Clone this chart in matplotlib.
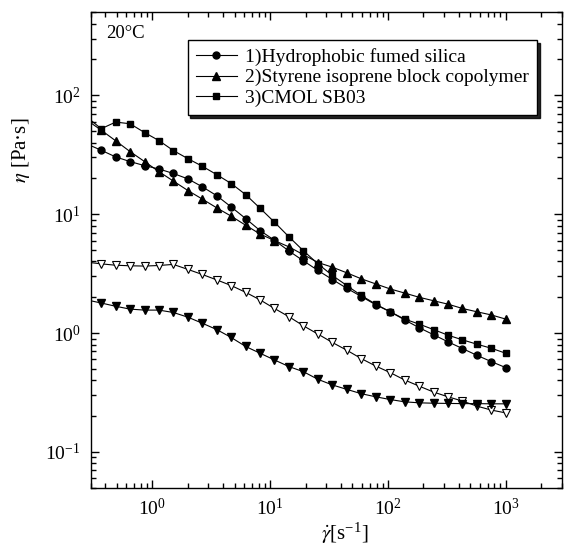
import matplotlib
matplotlib.use('Agg')
import matplotlib.pyplot as plt
from matplotlib.ticker import LogLocator, NullFormatter

# shear rate [1/s]
rate = [0.278, 0.369, 0.490, 0.649, 0.861, 1.14, 1.51, 2.01, 2.66, 3.53,
        4.68, 6.21, 8.24, 10.9, 14.5, 19.2, 25.5, 33.8, 44.8, 59.4,
        78.8, 104.5, 138.6, 183.8, 243.8, 323.2, 428.7, 568.6, 754, 1000]

# viscosity [Pa s]
silica = [39, 34.5, 30.3, 27.7, 25.6, 24.0, 22.0, 19.8, 17.0, 14.3,
          11.5, 9.18, 7.27, 6.03, 4.89, 4.05, 3.36, 2.82, 2.38, 2.03,
          1.73, 1.51, 1.29, 1.11, 0.968, 0.844, 0.741, 0.650, 0.575, 0.512]
copolymer = [62, 50.9, 41.4, 33.6, 27.7, 22.8, 19.0, 15.8, 13.4, 11.3,
             9.62, 8.07, 6.8, 6.0, 5.3, 4.56, 3.92, 3.58, 3.21, 2.86,
             2.59, 2.35, 2.17, 2.0, 1.87, 1.75, 1.61, 1.51, 1.42, 1.31]
cmol = [66, 52.3, 59.5, 57.6, 48.6, 41.6, 34.3, 29.3, 25.3, 21.5,
        18.1, 14.6, 11.2, 8.56, 6.43, 4.92, 3.82, 3.05, 2.51, 2.07,
        1.75, 1.51, 1.31, 1.19, 1.07, 0.96, 0.877, 0.806, 0.745, 0.676]
open_tri = [3.95, 3.82, 3.72, 3.68, 3.66, 3.70, 3.78, 3.43, 3.11, 2.80,
            2.51, 2.20, 1.90, 1.61, 1.37, 1.15, 0.98, 0.833, 0.717, 0.610,
            0.528, 0.465, 0.403, 0.358, 0.319, 0.291, 0.268, 0.243, 0.225, 0.213]
filled_tri = [1.9, 1.79, 1.68, 1.59, 1.56, 1.56, 1.49, 1.36, 1.21, 1.07,
              0.918, 0.771, 0.676, 0.594, 0.522, 0.473, 0.408, 0.366, 0.336, 0.309,
              0.291, 0.276, 0.264, 0.259, 0.257, 0.256, 0.255, 0.255, 0.254, 0.254]

labels = ['1)Hydrophobic fumed silica',
          '2)Styrene isoprene block copolymer',
          '3)CMOL SB03']

plt.rcParams['font.family'] = ['Liberation Serif', 'DejaVu Serif']
plt.rcParams['mathtext.fontset'] = 'stix'

fig = plt.figure(figsize=(5.66, 5.53), dpi=100)
ax = fig.add_axes([0.160, 0.118, 0.833, 0.860])

lw = 0.8
ax.plot(rate, silica, '-o', color='k', lw=lw, ms=5, label=labels[0])
ax.plot(rate, copolymer, '-^', color='k', lw=lw, ms=5.5, label=labels[1])
ax.plot(rate, cmol, '-s', color='k', lw=lw, ms=4.6, label=labels[2])
ax.plot(rate, open_tri, '-v', color='k', mfc='white', mew=0.8, lw=lw, ms=6)
ax.plot(rate, filled_tri, '-v', color='k', lw=lw, ms=6)

ax.set_xscale('log')
ax.set_yscale('log')
ax.set_xlim(0.3, 3000)
ax.set_ylim(0.05, 500)

for axis in (ax.xaxis, ax.yaxis):
    axis.set_major_locator(LogLocator(base=10, numticks=10))
    axis.set_minor_locator(LogLocator(base=10, subs=range(2, 10), numticks=10))
    axis.set_minor_formatter(NullFormatter())
ax.tick_params(which='both', direction='in', top=True, right=True, labelsize=14, width=1)
ax.tick_params(which='major', length=6, pad=7)
ax.tick_params(which='minor', length=3.5)
for sp in ax.spines.values():
    sp.set_linewidth(1)

ax.set_xlabel(r'$\dot{\gamma}$[s$^{\mathregular{-1}}$]', fontsize=15)
ax.set_ylabel(r'$\eta$ [Pa·s]', fontsize=15)
ax.xaxis.set_label_coords(0.54, -0.07)
ax.yaxis.set_label_coords(-0.125, 0.71)

ax.text(0.032, 0.955, '20°C', transform=ax.transAxes, fontsize=13.5, va='center', ha='left')

leg = ax.legend(loc='upper left', bbox_to_anchor=(0.206, 0.942), borderaxespad=0,
                fontsize=14, frameon=True, fancybox=False, edgecolor='k',
                shadow={'color': 'k', 'alpha': 0.85}, handlelength=2.1,
                handletextpad=0.45, labelspacing=0.15, borderpad=0.42)
leg.get_frame().set_linewidth(1)

fig.savefig('out.png', dpi=100)
